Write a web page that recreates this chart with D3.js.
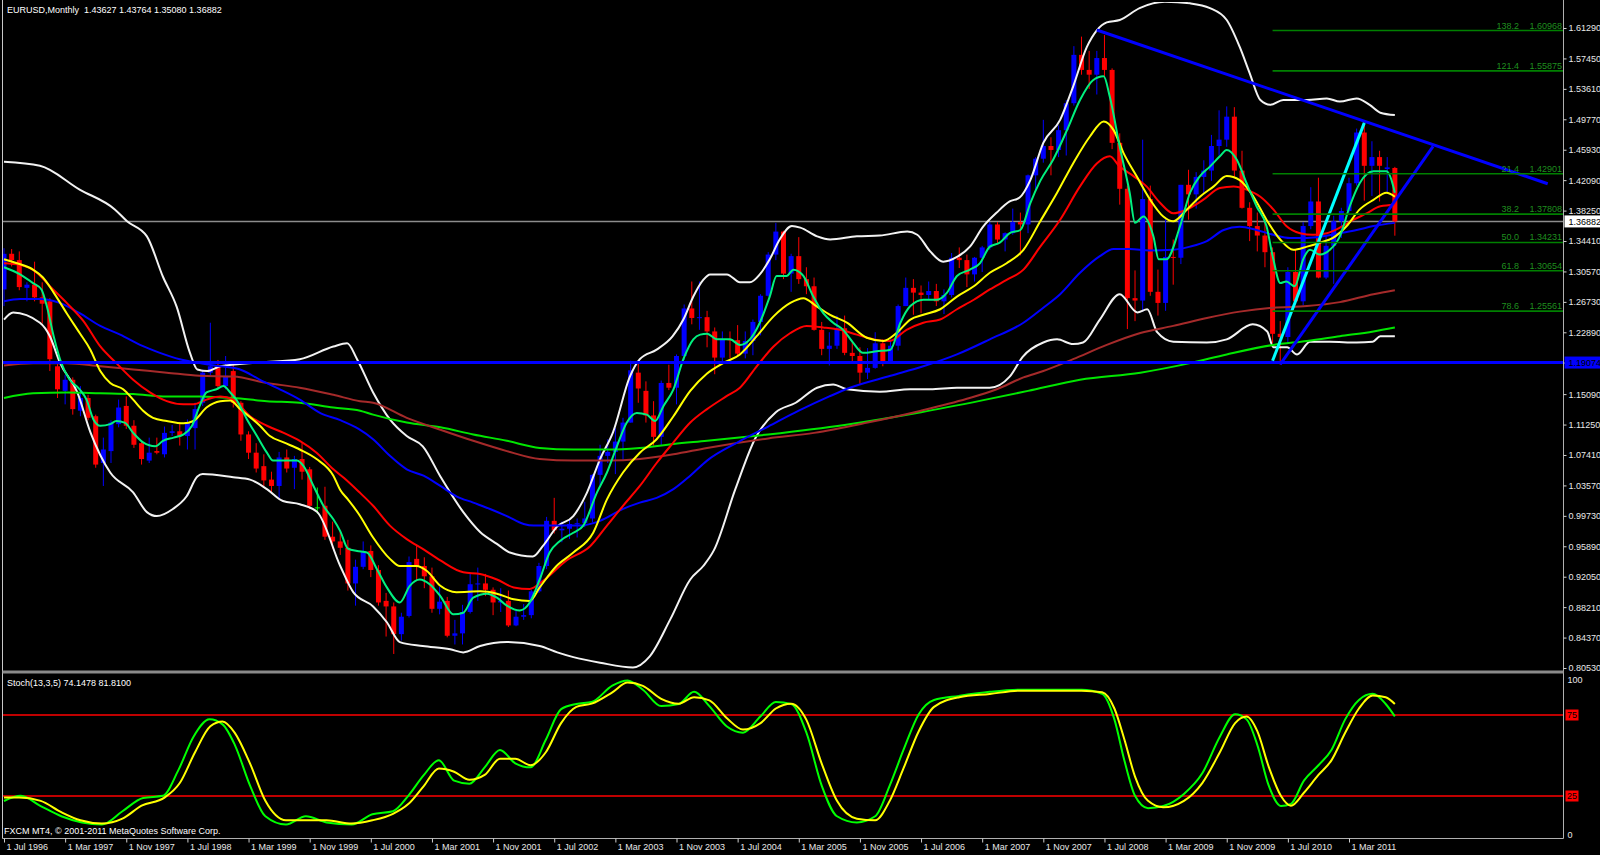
<!DOCTYPE html>
<html><head><meta charset="utf-8">
<script src="https://cdn.jsdelivr.net/npm/d3@7"></script>
<style>
html,body{margin:0;padding:0;background:#000;overflow:hidden;}
svg{display:block;}
text{font-family:"Liberation Sans",Arial,sans-serif;font-size:9px;}
</style></head><body>
<svg id="c" width="1600" height="855"></svg>
<script>
// ---------- DATA ----------
const symbolTitle = "EURUSD,Monthly  1.43627 1.43764 1.35080 1.36882";
const stochTitle = "Stoch(13,3,5) 74.1478 81.8100";
const copyright = "FXCM MT4, \u00A9 2001-2011 MetaQuotes Software Corp.";

const firstMonth = new Date(1996, 6, 1);   // Jul 1996
const endMonth = new Date(2011, 9, 1);     // exclusive (last bar Sep 2011)

const openP = [
 1.283,1.328,1.320,1.285,1.289,1.273,
 1.268,1.186,1.155,1.169,1.130,1.146,1.123,1.064,1.079,1.113,1.136,1.111,
 1.089,1.067,1.079,1.075,1.102,1.104,1.098,1.108,1.140,1.178,1.186,1.161,
 1.180,1.140,1.100,1.077,1.060,1.043,1.035,1.071,1.058,1.069,1.056,1.008,
 1.010,0.971,0.965,0.957,0.912,0.933,0.953,0.929,0.890,0.883,0.848,0.871,
 0.943,0.934,0.921,0.880,0.890,0.846,0.849,0.876,0.911,0.912,0.904,0.888,
 0.890,0.859,0.870,0.872,0.902,0.934,0.991,0.979,0.981,0.987,0.988,0.994,
 1.049,1.073,1.078,1.091,1.115,1.178,1.155,1.124,1.097,1.165,1.159,1.199,
 1.259,1.247,1.248,1.230,1.197,1.220,1.219,1.202,1.218,1.242,1.275,1.327,
 1.356,1.303,1.325,1.296,1.287,1.232,1.208,1.212,1.234,1.203,1.199,1.178,
 1.184,1.215,1.192,1.212,1.262,1.285,1.279,1.276,1.281,1.268,1.276,1.323,
 1.320,1.302,1.323,1.336,1.365,1.346,1.354,1.368,1.365,1.427,1.448,1.464,
 1.459,1.484,1.518,1.579,1.560,1.554,1.575,1.560,1.468,1.410,1.272,1.269,
 1.397,1.280,1.266,1.324,1.323,1.415,1.403,1.425,1.433,1.464,1.472,1.501,
 1.433,1.386,1.363,1.351,1.330,1.227,1.223,1.305,1.268,1.363,1.394,1.298,
 1.338,1.369,1.382,1.417,1.481,1.439,1.450,1.435,1.43627];
const highP = [
 1.335,1.334,1.331,1.292,1.318,1.292,
 1.272,1.190,1.175,1.172,1.161,1.150,1.125,1.096,1.118,1.144,1.148,1.118,
 1.092,1.096,1.096,1.110,1.112,1.115,1.119,1.140,1.182,1.241,1.194,1.199,
 1.190,1.142,1.104,1.089,1.075,1.053,1.078,1.081,1.073,1.089,1.059,1.033,
 1.034,0.990,0.978,0.967,0.942,0.965,0.960,0.935,0.900,0.888,0.875,0.946,
 0.960,0.945,0.932,0.908,0.895,0.866,0.885,0.925,0.932,0.924,0.907,0.906,
 0.903,0.878,0.886,0.904,0.938,0.996,1.020,0.990,0.993,0.994,1.015,1.050,
 1.087,1.094,1.108,1.121,1.193,1.193,1.167,1.142,1.168,1.188,1.201,1.264,
 1.293,1.293,1.256,1.235,1.230,1.230,1.238,1.230,1.245,1.277,1.330,1.367,
 1.357,1.328,1.349,1.311,1.298,1.242,1.229,1.250,1.250,1.217,1.210,1.209,
 1.229,1.220,1.220,1.264,1.298,1.296,1.288,1.293,1.290,1.283,1.329,1.336,
 1.327,1.324,1.338,1.368,1.368,1.355,1.385,1.380,1.428,1.450,1.497,1.475,
 1.490,1.522,1.590,1.602,1.584,1.584,1.604,1.562,1.480,1.414,1.307,1.472,
 1.414,1.308,1.374,1.346,1.415,1.434,1.431,1.446,1.478,1.509,1.514,1.513,
 1.458,1.393,1.380,1.370,1.336,1.243,1.311,1.334,1.368,1.412,1.424,1.350,
 1.376,1.386,1.424,1.486,1.494,1.470,1.458,1.450,1.43764];
const lowP = [
 1.262,1.312,1.282,1.268,1.268,1.240,
 1.180,1.146,1.138,1.125,1.123,1.118,1.058,1.035,1.064,1.109,1.107,1.083,
 1.062,1.064,1.075,1.071,1.098,1.086,1.081,1.081,1.136,1.174,1.157,1.157,
 1.134,1.092,1.069,1.052,1.035,1.027,1.020,1.052,1.031,1.043,1.006,1.000,
 0.967,0.956,0.948,0.903,0.884,0.930,0.920,0.884,0.845,0.823,0.840,0.869,
 0.915,0.906,0.875,0.873,0.844,0.835,0.835,0.874,0.890,0.896,0.872,0.876,
 0.857,0.858,0.866,0.868,0.900,0.930,0.975,0.964,0.968,0.970,0.983,0.989,
 1.036,1.064,1.050,1.068,1.115,1.140,1.115,1.086,1.086,1.156,1.138,1.194,
 1.239,1.232,1.210,1.176,1.190,1.196,1.199,1.196,1.200,1.225,1.274,1.320,
 1.296,1.280,1.290,1.277,1.231,1.200,1.187,1.208,1.200,1.189,1.164,1.170,
 1.183,1.186,1.190,1.206,1.262,1.251,1.253,1.270,1.262,1.252,1.273,1.310,
 1.286,1.293,1.305,1.333,1.340,1.331,1.352,1.326,1.354,1.407,1.443,1.427,
 1.450,1.452,1.515,1.554,1.536,1.529,1.549,1.460,1.390,1.233,1.243,1.255,
 1.275,1.250,1.256,1.289,1.315,1.371,1.385,1.404,1.420,1.452,1.463,1.425,
 1.385,1.344,1.331,1.311,1.215,1.188,1.215,1.266,1.263,1.359,1.297,1.296,
 1.290,1.348,1.380,1.414,1.395,1.401,1.394,1.405,1.35080];
const closeP = [
 1.328,1.320,1.286,1.289,1.273,1.265,
 1.195,1.157,1.169,1.132,1.146,1.121,1.062,1.081,1.115,1.134,1.111,1.087,
 1.069,1.077,1.077,1.102,1.104,1.098,1.115,1.132,1.178,1.186,1.161,1.174,
 1.140,1.100,1.077,1.057,1.042,1.035,1.071,1.057,1.069,1.053,1.010,1.008,
 0.971,0.965,0.957,0.912,0.933,0.953,0.929,0.888,0.883,0.848,0.870,0.939,
 0.934,0.921,0.880,0.889,0.846,0.849,0.876,0.911,0.912,0.904,0.888,0.890,
 0.859,0.870,0.872,0.902,0.934,0.991,0.979,0.981,0.987,0.988,0.994,1.049,
 1.073,1.078,1.091,1.115,1.181,1.158,1.124,1.097,1.165,1.159,1.199,1.259,
 1.247,1.248,1.230,1.197,1.220,1.219,1.202,1.218,1.242,1.275,1.327,1.356,
 1.303,1.325,1.296,1.287,1.232,1.208,1.212,1.234,1.203,1.199,1.178,1.184,
 1.215,1.192,1.212,1.262,1.285,1.279,1.276,1.281,1.268,1.276,1.323,1.320,
 1.302,1.323,1.336,1.365,1.346,1.354,1.368,1.365,1.427,1.448,1.464,1.459,
 1.484,1.518,1.579,1.560,1.554,1.575,1.560,1.468,1.410,1.272,1.269,1.397,
 1.280,1.266,1.324,1.323,1.415,1.403,1.425,1.433,1.464,1.472,1.501,1.433,
 1.386,1.363,1.351,1.330,1.227,1.223,1.305,1.268,1.363,1.394,1.298,1.338,
 1.369,1.382,1.417,1.481,1.439,1.450,1.439,1.437,1.36882];

// indicator lines: [bar index, value]
const maFast = [[0,1.311],[2.1,1.302],[3.8,1.291],[4.9,1.283],[5.6,1.262],[6.5,1.224],[7.5,1.190],[8.6,1.169],[9.9,1.157],[10.8,1.144],[11.7,1.119],[12.6,1.111],[13.9,1.113],[14.7,1.117],[15.8,1.115],[16.9,1.102],[18.2,1.090],[19.8,1.085],[20.8,1.092],[22.2,1.096],[23.5,1.100],[24.6,1.111],[25.6,1.136],[26.5,1.153],[27.8,1.157],[28.7,1.161],[29.6,1.153],[30.4,1.144],[31.8,1.119],[33.1,1.098],[34.4,1.077],[35.2,1.067],[37.0,1.067],[38.3,1.067],[39.2,1.060],[40.5,1.035],[41.8,1.010],[43.1,0.993],[44,0.978],[45,0.956],[46.2,0.953],[47.5,0.951],[48.8,0.930],[50.1,0.907],[51.8,0.888],[53.1,0.909],[54.4,0.917],[55.7,0.911],[57.1,0.896],[58.8,0.873],[60.1,0.875],[61.4,0.894],[63.2,0.899],[64.5,0.894],[65.8,0.884],[67.5,0.878],[68.8,0.888],[70.1,0.917],[71.4,0.951],[72.8,0.966],[74.5,0.976],[75.8,0.985],[77.6,1.027],[78.9,1.052],[80.2,1.085],[81.5,1.115],[82.8,1.127],[84.1,1.125],[85.2,1.117],[86.3,1.136],[87.6,1.157],[88.9,1.195],[90.2,1.220],[91.1,1.226],[92.0,1.227],[93.3,1.220],[95.0,1.220],[96.3,1.213],[97.6,1.220],[98.9,1.241],[100.2,1.274],[101.1,1.300],[102.4,1.300],[103.3,1.308],[104.6,1.300],[105.9,1.274],[107.2,1.253],[108.5,1.241],[109.8,1.232],[111.1,1.216],[112.4,1.203],[114.2,1.205],[116.0,1.207],[117.3,1.241],[118.6,1.262],[120.3,1.270],[122.1,1.270],[123.4,1.279],[124.7,1.300],[126.4,1.308],[127.7,1.316],[129.0,1.337],[130.3,1.342],[131.6,1.354],[133.0,1.358],[134.3,1.392],[135.6,1.420],[137.3,1.447],[139.1,1.484],[140.8,1.522],[142.5,1.547],[143.9,1.552],[144.7,1.526],[146.0,1.463],[147.3,1.405],[148.0,1.367],[149.1,1.375],[150.4,1.350],[151.1,1.321],[152.1,1.321],[153.9,1.363],[155.2,1.405],[156.5,1.426],[157.8,1.438],[159.1,1.451],[160.0,1.459],[161.3,1.447],[162.6,1.417],[163.9,1.388],[165.2,1.363],[166.1,1.321],[167.0,1.291],[167.8,1.293],[168.9,1.287],[170.0,1.321],[170.9,1.333],[172.2,1.327],[173.5,1.333],[174.8,1.350],[176.1,1.388],[177.4,1.417],[179.2,1.432],[180.9,1.432],[181.8,1.413],[182,1.405]];
const maYellow = [[0,1.321],[1.7,1.316],[3.8,1.308],[5.1,1.298],[6.5,1.279],[8.2,1.253],[9.9,1.228],[11.3,1.207],[12.6,1.180],[13.9,1.165],[15.6,1.157],[16.9,1.144],[18.2,1.130],[19.5,1.121],[21.3,1.117],[23.5,1.114],[24.8,1.117],[26.5,1.134],[28.3,1.142],[29.6,1.143],[30.9,1.132],[33.5,1.111],[34.8,1.098],[36.6,1.090],[38.7,1.081],[40.9,1.069],[43.1,1.048],[44,1.030],[45,1.018],[46.4,1.000],[48.3,0.970],[50.5,0.943],[51.8,0.934],[54.0,0.934],[55.3,0.928],[57.1,0.909],[59.2,0.901],[62.3,0.902],[64.5,0.899],[66.7,0.892],[68.8,0.890],[70.1,0.907],[72.3,0.934],[74.5,0.951],[77.1,0.976],[78.9,1.018],[81.0,1.052],[83.2,1.077],[85.4,1.094],[87.6,1.123],[89.8,1.155],[92.0,1.177],[94.1,1.190],[96.3,1.201],[98.5,1.224],[100.7,1.249],[102.9,1.266],[104.6,1.272],[106.3,1.262],[108.1,1.251],[110.3,1.241],[112.9,1.222],[115.1,1.218],[116.8,1.228],[118.6,1.245],[120.3,1.251],[122.5,1.258],[124.7,1.274],[126.9,1.287],[129.0,1.304],[131.2,1.316],[133.4,1.333],[135.6,1.369],[137.8,1.405],[139.9,1.442],[142.1,1.476],[143.9,1.495],[145.2,1.484],[146.5,1.455],[148.2,1.426],[150.0,1.396],[151.7,1.375],[153.0,1.369],[154.8,1.384],[156.5,1.400],[158.3,1.413],[160.0,1.426],[161.7,1.421],[163.5,1.400],[165.2,1.371],[167.0,1.346],[168.7,1.333],[170.5,1.337],[172.2,1.342],[173.9,1.348],[175.7,1.363],[177.4,1.384],[179.2,1.396],[180.9,1.405],[182,1.400]];
const maRed = [[0,1.316],[2.1,1.314],[4.3,1.304],[6.0,1.287],[8.2,1.266],[10.4,1.243],[12.6,1.211],[14.7,1.190],[16.9,1.169],[19.1,1.153],[21.3,1.142],[23.5,1.138],[24.8,1.138],[26.5,1.144],[28.3,1.148],[30.0,1.144],[32.2,1.123],[34.4,1.111],[36.6,1.102],[38.7,1.092],[40.9,1.077],[43.1,1.056],[44.5,1.045],[46.4,1.028],[48.3,1.010],[50.5,0.985],[52.7,0.968],[54.9,0.955],[57.1,0.941],[60.1,0.926],[62.3,0.924],[64.5,0.917],[66.7,0.907],[68.8,0.905],[70.5,0.915],[73.6,0.941],[76.7,0.959],[78.9,0.985],[81.0,1.010],[83.2,1.035],[85.4,1.064],[87.6,1.090],[89.8,1.115],[92.0,1.132],[94.5,1.148],[96.3,1.159],[98.5,1.186],[100.7,1.211],[102.9,1.228],[105.0,1.237],[107.2,1.235],[109.4,1.232],[111.6,1.226],[113.8,1.220],[115.9,1.218],[118.1,1.232],[120.3,1.241],[122.5,1.245],[124.7,1.258],[126.9,1.270],[129.0,1.283],[131.2,1.295],[133.4,1.308],[135.6,1.337],[138.2,1.371],[140.8,1.413],[143.0,1.442],[144.7,1.451],[146.0,1.438],[147.8,1.426],[149.5,1.413],[151.3,1.392],[153.0,1.379],[154.8,1.384],[156.9,1.396],[159.1,1.411],[160.9,1.413],[162.6,1.409],[164.4,1.400],[166.1,1.384],[167.8,1.363],[169.6,1.354],[171.3,1.352],[173.1,1.354],[174.8,1.361],[176.6,1.371],[178.3,1.379],[180.1,1.388],[182,1.390]];
const maBlue = [[0,1.268],[2.1,1.271],[4.7,1.271],[7.3,1.266],[9.9,1.253],[12.6,1.237],[15.2,1.226],[17.8,1.213],[20.4,1.203],[23.0,1.195],[25.6,1.190],[28.3,1.186],[30.9,1.182],[33.5,1.169],[36.1,1.157],[38.7,1.144],[41.4,1.127],[44.0,1.118],[46.4,1.107],[48.3,1.094],[50.5,1.073],[52.7,1.056],[54.9,1.048],[57.1,1.035],[59.2,1.022],[61.4,1.014],[63.6,1.006],[65.8,0.997],[68.0,0.987],[69.3,0.985],[72.3,0.985],[75.4,0.985],[78.0,0.991],[81.0,1.006],[83.2,1.014],[85.4,1.020],[87.6,1.031],[89.8,1.048],[92.0,1.067],[96,1.090],[100,1.110],[104,1.130],[108,1.148],[110.7,1.159],[116.0,1.174],[120.3,1.186],[124.7,1.201],[129.0,1.220],[133.4,1.241],[136.0,1.260],[138.2,1.277],[140.8,1.304],[143.4,1.325],[145.2,1.334],[147.3,1.334],[149.9,1.332],[153.0,1.333],[155.2,1.337],[157.4,1.344],[159.6,1.358],[161.7,1.362],[163.9,1.358],[166.1,1.352],[168.3,1.348],[170.5,1.348],[172.6,1.350],[174.8,1.354],[177.0,1.358],[179.2,1.363],[182,1.367]];
const maBrown = [[0,1.187],[3.8,1.190],[8.2,1.190],[12.6,1.186],[16.9,1.182],[21.3,1.178],[25.6,1.174],[30.0,1.173],[34.4,1.165],[38.7,1.159],[43.1,1.150],[46.6,1.142],[48.3,1.140],[52.7,1.121],[57.1,1.106],[61.4,1.092],[65.8,1.079],[70.1,1.069],[74.5,1.067],[78.9,1.067],[83.2,1.069],[87.6,1.075],[92.0,1.083],[100,1.095],[106,1.102],[113,1.115],[120,1.130],[126,1.145],[129.9,1.157],[133.4,1.172],[136.0,1.180],[139.9,1.195],[144.3,1.213],[148.7,1.228],[153.0,1.237],[157.4,1.247],[161.7,1.255],[166.1,1.260],[170.5,1.262],[174.8,1.267],[179.2,1.277],[182,1.282]];
const maLime = [[0,1.146],[3.8,1.152],[8.2,1.153],[12.6,1.152],[16.9,1.151],[21.3,1.148],[25.6,1.148],[30.0,1.146],[34.4,1.142],[38.7,1.140],[43.1,1.134],[46.6,1.130],[48.3,1.125],[52.7,1.115],[57.1,1.109],[61.4,1.100],[65.8,1.092],[70.1,1.083],[74.5,1.081],[78.9,1.081],[83.2,1.083],[87.6,1.088],[92.0,1.092],[100,1.100],[110,1.112],[120,1.128],[128,1.143],[134,1.155],[140.8,1.169],[148.7,1.178],[155.2,1.190],[160.0,1.201],[166.1,1.213],[170.5,1.218],[174.8,1.224],[179.2,1.230],[182,1.235]];
const bandUpper = [[0,1.444],[4.7,1.439],[9.9,1.409],[14.5,1.384],[16.1,1.369],[18.7,1.350],[20.8,1.299],[22.6,1.261],[24.3,1.204],[25.3,1.182],[26.6,1.180],[28.3,1.186],[33.5,1.191],[38.7,1.195],[43.1,1.211],[44.9,1.215],[46.2,1.195],[48.3,1.153],[50.5,1.119],[52.7,1.098],[54.8,1.085],[57.1,1.047],[60.1,1.002],[62.3,0.977],[64.5,0.962],[66.2,0.951],[69.2,0.946],[70.5,0.959],[72.4,0.984],[74.5,0.997],[76.3,1.027],[78.0,1.069],[79.7,1.103],[81.9,1.173],[83.2,1.195],[85.4,1.207],[87.5,1.224],[88.9,1.245],[90.2,1.274],[91.5,1.295],[92.4,1.302],[94.6,1.302],[96.3,1.292],[97.6,1.292],[98.9,1.302],[100.2,1.321],[101.5,1.346],[103.1,1.363],[104.2,1.361],[106.4,1.350],[108.1,1.346],[111.6,1.350],[114.6,1.351],[118.2,1.356],[119.5,1.352],[121.2,1.331],[122.9,1.318],[124.7,1.324],[126.4,1.337],[128.1,1.362],[129.9,1.380],[131.6,1.394],[132.9,1.399],[134.3,1.421],[136.0,1.468],[138.2,1.497],[139.9,1.539],[141.7,1.589],[143.0,1.610],[144.3,1.620],[146.0,1.623],[148.6,1.638],[151.9,1.646],[155.2,1.644],[157.8,1.638],[160.0,1.623],[161.7,1.589],[163.0,1.556],[164.4,1.522],[165.7,1.516],[167.4,1.522],[170.5,1.522],[173.1,1.524],[174.8,1.520],[177.0,1.524],[178.7,1.516],[180.1,1.506],[182,1.503]];
const bandLower = [[0,1.245],[1.2,1.254],[4.7,1.241],[6.0,1.224],[7.3,1.191],[9.6,1.153],[11.3,1.103],[13.9,1.052],[16.9,1.027],[18.7,1.002],[20.0,0.997],[22.1,1.006],[23.9,1.022],[25.3,1.047],[26.0,1.050],[30.0,1.046],[32.2,1.043],[34.4,1.031],[36.5,1.016],[38.7,1.012],[41.0,1.002],[44.0,0.934],[45.7,0.901],[48.3,0.883],[50.1,0.863],[51.8,0.838],[54.8,0.833],[58.4,0.829],[60.1,0.825],[62.3,0.833],[65.8,0.838],[70.1,0.833],[72.4,0.825],[74.5,0.819],[78.0,0.812],[82.3,0.806],[84.5,0.820],[87.2,0.867],[89.8,0.917],[91.5,0.934],[92.9,0.954],[95.7,1.031],[98.3,1.095],[101,1.128],[103.6,1.140],[106.4,1.159],[108.5,1.163],[110.3,1.157],[114.6,1.154],[118.6,1.157],[121.2,1.157],[124.7,1.159],[129.0,1.159],[131.6,1.173],[133.3,1.198],[136.0,1.216],[137.8,1.220],[139.9,1.214],[141.2,1.216],[143.4,1.245],[146.0,1.277],[148.3,1.254],[149.6,1.258],[150.9,1.229],[153.0,1.217],[157.4,1.216],[160.0,1.220],[163.4,1.239],[165.3,1.230],[166.1,1.210],[167.9,1.210],[169.2,1.201],[170.9,1.217],[173.5,1.217],[177.0,1.216],[179.1,1.217],[180.1,1.224],[182,1.224]];

const stochMain = [[0,21.9],[2.2,25.1],[4.8,18.8],[7.5,12.5],[10.2,8.7],[12.8,7.4],[15.5,15.6],[18.2,23.8],[20.8,25.1],[22.8,40.8],[24.8,61.6],[26.9,72.3],[28.6,69.2],[30.2,56.6],[32.2,31.4],[34.2,12.5],[36.9,7.4],[39.5,12.5],[42.2,8.7],[45.5,7.4],[48.2,13.7],[50.9,15.6],[52.9,25.1],[54.9,37.7],[56.9,47.1],[58.9,34.5],[60.9,32.6],[62.9,42.7],[64.9,53.4],[66.9,45.2],[68.9,42.7],[70.9,59.7],[72.9,78.6],[74.9,81.8],[76.9,83.0],[79.6,93.1],[81.6,96.3],[83.6,90.6],[86.0,80.5],[88.3,81.8],[90.3,89.3],[92.3,80.5],[94.6,67.9],[96.7,64.1],[99.0,74.2],[101.0,83.0],[103.0,81.8],[105.0,64.1],[107.0,31.4],[109.0,12.5],[111.6,8.7],[114.0,12.5],[115.9,31.4],[117.7,53.4],[119.7,75.5],[121.7,84.3],[125.0,86.8],[129.0,89.3],[133.0,90.6],[137.0,90.6],[141.0,90.6],[143.7,88.1],[145.3,72.3],[146.6,47.1],[148.0,25.1],[149.7,17.5],[151.7,18.8],[154.4,26.3],[156.8,39.0],[159.1,61.6],[161.1,75.5],[162.6,72.3],[164.0,56.6],[165.5,31.4],[167.1,18.8],[168.4,20.1],[170.1,34.5],[172.0,44.0],[173.7,53.4],[175.5,72.3],[177.3,84.3],[179.1,88.1],[180.8,81.8],[182,74.15]];
const stochSignal = [[0,24],[2,24],[4.8,22],[7.5,15],[10,10],[12.8,8],[15.5,11],[18,19],[21,24],[23,33],[25,52],[27,68],[28.6,71],[30.2,64],[32.2,45],[34.2,22],[36.9,10],[39.5,10],[42.2,10],[45.5,8],[48.2,10],[50.9,14],[52.9,20],[54.9,31],[56.9,42],[58.9,40],[60.9,35],[62.9,38],[64.9,48],[66.9,48],[68.9,44],[70.9,52],[72.9,70],[74.9,80],[76.9,82],[79.6,89],[81.6,95],[83.6,93],[86,85],[88.3,82],[90.3,86],[92.3,84],[94.6,73],[96.7,66],[99,70],[101,79],[103,82],[105,72],[107,45],[109,22],[111.6,11],[114,10],[115.9,22],[117.7,42],[119.7,65],[121.7,80],[125,86],[129,88],[133,90],[137,90],[141,90],[143.7,89],[145.3,79],[146.6,60],[148,37],[149.7,22],[151.7,18],[154.4,22],[156.8,33],[159.1,52],[161.1,70],[162.6,74],[164,65],[165.5,43],[167.1,25],[168.4,19],[170.1,27],[172,38],[173.7,47],[175.5,64],[177.3,79],[179.1,87],[180.8,86],[182,81.81]];

const priceTickLabels = ["1.61290","1.57450","1.53610","1.49770","1.45930","1.42090","1.38250","1.34410","1.30570","1.26730","1.22890","1.19074","1.15090","1.11250","1.07410","1.03570","0.99730","0.95890","0.92050","0.88210","0.84370","0.80530"];
const timeTickLabels = ["1 Jul 1996","1 Mar 1997","1 Nov 1997","1 Jul 1998","1 Mar 1999","1 Nov 1999","1 Jul 2000","1 Mar 2001","1 Nov 2001","1 Jul 2002","1 Mar 2003","1 Nov 2003","1 Jul 2004","1 Mar 2005","1 Nov 2005","1 Jul 2006","1 Mar 2007","1 Nov 2007","1 Jul 2008","1 Mar 2009","1 Nov 2009","1 Jul 2010","1 Mar 2011"];

const fibPercent = ["138.2","121.4","21.4","38.2","50.0","61.8","78.6"];
const fibPrice = [1.60968,1.55875,1.42901,1.37808,1.34231,1.30654,1.25561];
const fibStartBar = 166;
const supportLevel = 1.19074;
const lastClose = 1.36882;
const trendDown = [[143.0,1.6104],[202.0,1.4164]];
const trendUp = [[167.0,1.1883],[187.0,1.4634]];
const trendCyan = [[166.0,1.193],[178.0,1.4932]];
const stochLevels = [75, 25];

// ---------- LAYOUT ----------
const svg = d3.select("#c");
const W = 1600, H = 855;
const axisX = 1563.5, leftX = 2.5;
const mainTop = 2, mainBottom = 671;
const subTop = 673, subBottom = 838.5;

svg.append("rect").attr("width",W).attr("height",H).attr("fill","#000");

const months = d3.timeMonth.range(firstMonth, endMonth);
const bars = months.map((d,i)=>({i, d, o:openP[i], h:highP[i], l:lowP[i], c:closeP[i]}));

const x = d3.scaleLinear().domain([0,176]).range([4,1349]);
const y = d3.scaleLinear().domain([0.80530,1.61290]).range([668,28]);
const ys = d3.scaleLinear().domain([0,100]).range([836.5,674.5]);

const defs = svg.append("defs");
defs.append("clipPath").attr("id","clipMain").append("rect")
  .attr("x",leftX+0.5).attr("y",mainTop).attr("width",axisX-leftX-1).attr("height",mainBottom-mainTop-1);
defs.append("clipPath").attr("id","clipSub").append("rect")
  .attr("x",leftX+0.5).attr("y",subTop+1).attr("width",axisX-leftX-1).attr("height",subBottom-subTop-1);

const gMain = svg.append("g").attr("clip-path","url(#clipMain)");
const gSub = svg.append("g").attr("clip-path","url(#clipSub)");

// current price line
gMain.append("line").attr("x1",leftX).attr("x2",axisX).attr("y1",y(lastClose)).attr("y2",y(lastClose))
  .attr("stroke","#8c8c8c").attr("stroke-width",1.5);

// candles
const cg = gMain.append("g");
const colorOf = b => b.c > b.o ? "#0000ff" : (b.c < b.o ? "#ff0000" : "#00ff00");
cg.selectAll("line.wick").data(bars).join("line")
  .attr("x1",b=>x(b.i)).attr("x2",b=>x(b.i))
  .attr("y1",b=>y(b.h)).attr("y2",b=>y(b.l))
  .attr("stroke",colorOf).attr("stroke-width",1);
cg.selectAll("rect.body").data(bars).join("rect")
  .attr("x",b=>x(b.i)-2.5).attr("width",5)
  .attr("y",b=>y(Math.max(b.o,b.c)))
  .attr("height",b=>Math.max(1,Math.abs(y(b.o)-y(b.c))))
  .attr("fill",colorOf);

// indicator lines
const line = d3.line().x(d=>x(d[0])).y(d=>y(d[1])).curve(d3.curveMonotoneX);
const drawLine = (data,color,w) => gMain.append("path").attr("d",line(data))
  .attr("fill","none").attr("stroke",color).attr("stroke-width",w).attr("stroke-linejoin","round");
drawLine(bandUpper,"#f2f2f2",2);
drawLine(bandLower,"#f2f2f2",2);
drawLine(maLime,"#00e600",2);
drawLine(maBrown,"#a52a2a",2);
drawLine(maBlue,"#0000ff",2);
drawLine(maRed,"#ff0000",2);
drawLine(maYellow,"#ffff00",2);
drawLine(maFast,"#00f07f",2);

// fibonacci levels
const fibG = svg.append("g");
fibPrice.forEach((p,k)=>{
  fibG.append("line").attr("x1",x(fibStartBar)).attr("x2",axisX).attr("y1",y(p)).attr("y2",y(p))
    .attr("stroke","#008000").attr("stroke-width",1.6);
  fibG.append("text").attr("x",1519).attr("y",y(p)-2).attr("text-anchor","end")
    .attr("fill","#1f8f1f").text(fibPercent[k]);
  fibG.append("text").attr("x",axisX-1.5).attr("y",y(p)-2).attr("text-anchor","end")
    .attr("fill","#1f8f1f").text(d3.format(".5f")(p));
});

// support horizontal line
gMain.append("line").attr("x1",leftX).attr("x2",axisX).attr("y1",y(supportLevel)).attr("y2",y(supportLevel))
  .attr("stroke","#0000ff").attr("stroke-width",3);

// trend lines
const tl = d3.line().x(d=>x(d[0])).y(d=>y(d[1]));
gMain.append("path").attr("d",tl(trendDown)).attr("stroke","#0000ff").attr("stroke-width",3).attr("fill","none");
gMain.append("path").attr("d",tl(trendUp)).attr("stroke","#0000ff").attr("stroke-width",3).attr("fill","none");
gMain.append("path").attr("d",tl(trendCyan)).attr("stroke","#00ffff").attr("stroke-width",3).attr("fill","none");

// stochastic panel
stochLevels.forEach(v=>{
  gSub.append("line").attr("x1",leftX).attr("x2",axisX).attr("y1",ys(v)).attr("y2",ys(v))
    .attr("stroke","#ff0000").attr("stroke-width",1.5);
});
const sline = d3.line().x(d=>x(d[0])).y(d=>ys(d[1])).curve(d3.curveMonotoneX);
gSub.append("path").attr("d",sline(stochMain)).attr("fill","none").attr("stroke","#00ff00").attr("stroke-width",2);
gSub.append("path").attr("d",sline(stochSignal)).attr("fill","none").attr("stroke","#ffff00").attr("stroke-width",2);

// frames
const frame = svg.append("g").attr("stroke","#9a9a9a").attr("fill","none");
frame.append("line").attr("x1",leftX).attr("x2",leftX).attr("y1",0).attr("y2",subBottom).attr("stroke","#c8c8c8");
frame.append("line").attr("x1",axisX).attr("x2",axisX).attr("y1",0).attr("y2",subBottom).attr("stroke","#b0b0b0");
frame.append("line").attr("x1",leftX).attr("x2",axisX).attr("y1",672).attr("y2",672).attr("stroke-width",3).attr("stroke","#8a8a8a");
frame.append("line").attr("x1",leftX).attr("x2",axisX).attr("y1",subBottom).attr("y2",subBottom).attr("stroke","#b0b0b0");

// price axis
const yAxis = d3.axisRight(y).tickValues(priceTickLabels.map(Number))
  .tickFormat((d,k)=>priceTickLabels[k]).tickSize(3).tickPadding(2);
const ga = svg.append("g").attr("transform",`translate(${axisX},0)`).call(yAxis);
ga.select(".domain").remove();
ga.selectAll("line").attr("stroke","#d0d0d0");
ga.selectAll("text").attr("fill","#e8e8e8").attr("font-size",9).attr("font-family","Liberation Sans, Arial, sans-serif");

// price boxes
function priceBox(val, bg, fg){
  const yy = y(val);
  svg.append("rect").attr("x",axisX+1).attr("y",yy-6).attr("width",36).attr("height",12).attr("fill",bg);
  svg.append("text").attr("x",axisX+5).attr("y",yy+3.3).attr("fill",fg).text(d3.format(".5f")(val));
}
priceBox(supportLevel,"#0000ff","#000000");
priceBox(lastClose,"#ffffff","#000000");

// stoch axis labels
svg.append("text").attr("x",axisX+4).attr("y",ys(100)+8).attr("fill","#e8e8e8").text("100");
svg.append("text").attr("x",axisX+4).attr("y",ys(0)+1).attr("fill","#e8e8e8").text("0");
stochLevels.forEach(v=>{
  svg.append("rect").attr("x",axisX+2).attr("y",ys(v)-5.5).attr("width",13).attr("height",11).attr("fill","#ff0000");
  svg.append("text").attr("x",axisX+3.5).attr("y",ys(v)+3.3).attr("fill","#000").text(v);
});

// time axis
const parseT = d3.timeParse("%d %b %Y");
const tickIdx = timeTickLabels.map(s=>d3.timeMonth.count(firstMonth, parseT(s)));
const xAxis = d3.axisBottom(x).tickValues(tickIdx).tickFormat((d,k)=>timeTickLabels[k]).tickSize(4).tickPadding(1);
const gx = svg.append("g").attr("transform",`translate(0,${subBottom})`).call(xAxis);
gx.select(".domain").remove();
gx.selectAll("line").attr("stroke","#d0d0d0");
gx.selectAll("text").attr("fill","#e8e8e8").attr("font-size",9).attr("text-anchor","start")
  .attr("dx",2).attr("font-family","Liberation Sans, Arial, sans-serif");

// titles
svg.append("text").attr("x",7).attr("y",13).attr("fill","#ffffff").style("white-space","pre").text(symbolTitle);
svg.append("text").attr("x",7).attr("y",686).attr("fill","#ffffff").text(stochTitle);
svg.append("text").attr("x",4).attr("y",834).attr("fill","#ffffff").text(copyright);
</script></body></html>
